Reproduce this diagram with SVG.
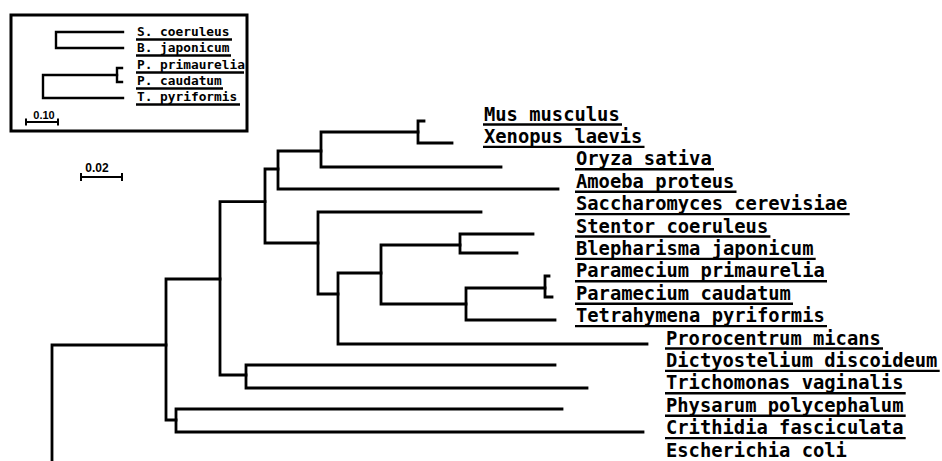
<svg xmlns="http://www.w3.org/2000/svg" width="942" height="461" viewBox="0 0 942 461">
<style>
.br{fill:none;stroke:#000;stroke-width:2.8;stroke-linejoin:miter;stroke-linecap:square}
.ul{stroke:#000;stroke-width:2.4}
.lb{font-family:"DejaVu Sans Mono","Liberation Mono",monospace;font-weight:bold;font-size:18.8px;fill:#000}
.il{font-family:"DejaVu Sans Mono","Liberation Mono",monospace;font-weight:bold;font-size:12.8px;fill:#000}
.sc{font-family:"Liberation Sans",Arial,sans-serif;font-weight:bold;fill:#000}
</style>
<rect width="942" height="461" fill="#fff"/>

<g id="inset">
  <rect x="11" y="15" width="236" height="116" fill="none" stroke="#000" stroke-width="3"/>
  <g id="inset-tree" class="br" style="stroke-width:2.4">
    <path d="M123,32 H56 V48 H123"/>
    <path d="M122,68 H117 V82 H122"/>
    <path d="M117,75 H43 V98 H123"/>
  </g>
  <g id="inset-labels">
    <text class="il" x="137" y="36">S. coeruleus</text><line class="ul" x1="136" y1="39.5" x2="232" y2="39.5"/>
    <text class="il" x="137" y="52">B. japonicum</text><line class="ul" x1="136" y1="55.5" x2="231" y2="55.5"/>
    <text class="il" x="137" y="69">P. primaurelia</text><line class="ul" x1="136" y1="72.5" x2="244" y2="72.5"/>
    <text class="il" x="137" y="85">P. caudatum</text><line class="ul" x1="136" y1="88.5" x2="223" y2="88.5"/>
    <text class="il" x="137" y="101">T. pyriformis</text><line class="ul" x1="136" y1="104.5" x2="240" y2="104.5"/>
  </g>
  <g id="inset-scale">
    <text class="sc" x="44" y="119" font-size="11" text-anchor="middle">0.10</text>
    <path d="M26,122 H58 M26,118.5 V125.5 M58,118.5 V125.5" stroke="#000" stroke-width="2"/>
  </g>
</g>

<g id="scale-bar">
  <text class="sc" x="97" y="172" font-size="12" text-anchor="middle">0.02</text>
  <path d="M81,177 H122 M81,173 V181 M122,173 V181" stroke="#000" stroke-width="2"/>
</g>

<g id="connectors" class="br">
  <path d="M52,461 V345 H166"/>
  <path d="M220,279 H166 V420 H176"/>
  <path d="M562,409 H176 V432 H643"/>
  <path d="M265,201.7 H220 V375 H246"/>
  <path d="M555,365 H246 V388 H587"/>
  <path d="M278,169 H265 V243 H318"/>
  <path d="M321,151 H278 V189 H558"/>
  <path d="M418,132 H321 V167 H501"/>
  <path d="M424,121 H418 V143 H452"/>
  <path d="M481,212 H318 V294 H338"/>
  <path d="M381,273 H338 V344 H647"/>
  <path d="M460,245 H381 V304 H466"/>
  <path d="M533,234 H460 V253 H517"/>
  <path d="M545,288 H466 V320 H555"/>
  <path d="M549,276 H545 V297 H552"/>
</g>

<g id="leaf-mus"><text class="lb" x="484" y="120.5">Mus musculus</text><line class="ul" x1="483" y1="124.5" x2="622" y2="124.5"/></g>
<g id="leaf-xenopus"><text class="lb" x="484" y="142.9">Xenopus laevis</text><line class="ul" x1="483" y1="146.9" x2="644.5" y2="146.9"/></g>
<g id="leaf-oryza"><text class="lb" x="576" y="165.3">Oryza sativa</text><line class="ul" x1="575" y1="169.3" x2="714" y2="169.3"/></g>
<g id="leaf-amoeba"><text class="lb" x="576" y="187.7">Amoeba proteus</text><line class="ul" x1="575" y1="191.7" x2="736.5" y2="191.7"/></g>
<g id="leaf-saccharomyces"><text class="lb" x="576" y="210.1">Saccharomyces cerevisiae</text><line class="ul" x1="575" y1="214.1" x2="849.7" y2="214.1"/></g>
<g id="leaf-stentor"><text class="lb" x="576" y="232.5">Stentor coeruleus</text><line class="ul" x1="575" y1="236.5" x2="770.4" y2="236.5"/></g>
<g id="leaf-blepharisma"><text class="lb" x="576" y="254.9">Blepharisma japonicum</text><line class="ul" x1="575" y1="258.9" x2="815.7" y2="258.9"/></g>
<g id="leaf-p-primaurelia"><text class="lb" x="576" y="277.3">Paramecium primaurelia</text><line class="ul" x1="575" y1="281.3" x2="827" y2="281.3"/></g>
<g id="leaf-p-caudatum"><text class="lb" x="576" y="299.7">Paramecium caudatum</text><line class="ul" x1="575" y1="303.7" x2="793" y2="303.7"/></g>
<g id="leaf-tetrahymena"><text class="lb" x="576" y="322.1">Tetrahymena pyriformis</text><line class="ul" x1="575" y1="326.1" x2="827" y2="326.1"/></g>
<g id="leaf-prorocentrum"><text class="lb" x="666" y="344.5">Prorocentrum micans</text><line class="ul" x1="665" y1="348.5" x2="883" y2="348.5"/></g>
<g id="leaf-dictyostelium"><text class="lb" x="666" y="366.9">Dictyostelium discoideum</text><line class="ul" x1="665" y1="370.9" x2="939.7" y2="370.9"/></g>
<g id="leaf-trichomonas"><text class="lb" x="666" y="389.3">Trichomonas vaginalis</text><line class="ul" x1="665" y1="393.3" x2="905.7" y2="393.3"/></g>
<g id="leaf-physarum"><text class="lb" x="666" y="411.7">Physarum polycephalum</text><line class="ul" x1="665" y1="415.7" x2="905.7" y2="415.7"/></g>
<g id="leaf-crithidia"><text class="lb" x="666" y="434.1">Crithidia fasciculata</text><line class="ul" x1="665" y1="438.1" x2="905.7" y2="438.1"/></g>
<g id="leaf-escherichia"><text class="lb" x="666" y="456.5">Escherichia coli</text></g>
</svg>
